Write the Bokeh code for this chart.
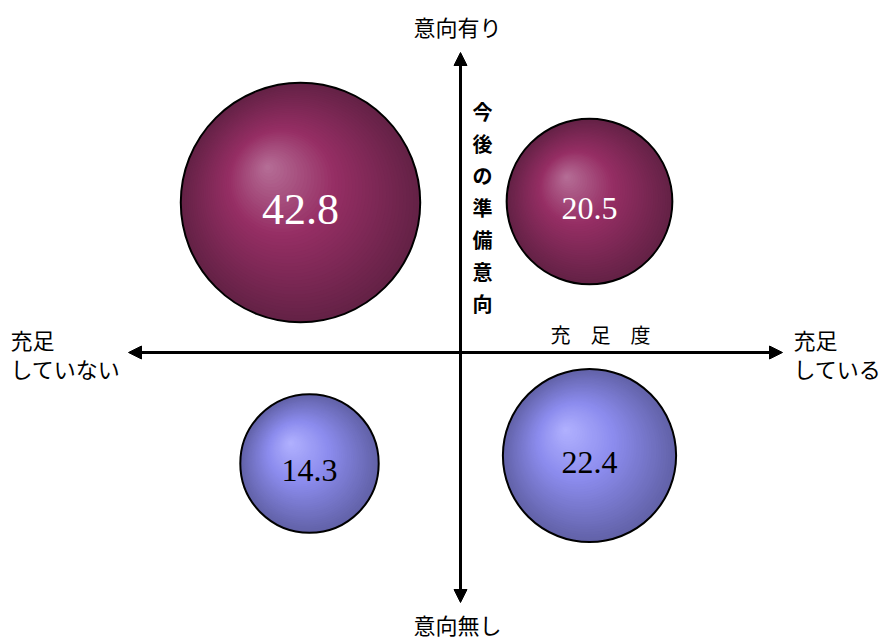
import numpy as np
from bokeh.plotting import figure
from bokeh.models import Range1d, Arrow, NormalHead, ColumnDataSource
from bokeh.core.properties import value
from bokeh.embed import file_html
from bokeh.resources import INLINE

# --- data -------------------------------------------------------------
values = [42.8, 20.5, 14.3, 22.4]          # share (%) in each quadrant
satisfaction = [-160, 129, -151, 129]       # horizontal placement (充足度)
intention = [150, 151, -111, -103]          # vertical placement (今後の準備意向)
intent_group = ["有り", "有り", "無し", "無し"]

axis_end_labels = ["意向有り", "意向無し"]
left_label = ["充足", "していない"]
right_label = ["充足", "している"]
x_title = "充　足　度"
y_title = "今後の準備意向"

# --- styling ----------------------------------------------------------
PX_PER_SQRT = 18.3      # bubble radius per sqrt(value), area-proportional
N_RINGS = 45
HILITE = np.array([-0.28, 0.30])   # highlight offset as a fraction of radius

palettes = {
    "有り": dict(edge=(100, 34, 70), base=(150, 46, 100), hi=(182, 112, 152), text="white"),
    "無し": dict(edge=(98, 98, 168), base=(140, 140, 238), hi=(178, 178, 255), text="black"),
}

JP = value("Noto Sans CJK JP")
NUM = value("Liberation Serif")


def lerp(a, b, t):
    return tuple(int(round(a[i] + (b[i] - a[i]) * t)) for i in range(3))


def ring_color(pal, t):
    if t < 0.55:
        c = lerp(pal["edge"], pal["base"], t / 0.55)
    else:
        c = lerp(pal["base"], pal["hi"], (t - 0.55) / 0.45)
    return "#%02x%02x%02x" % c


p = figure(width=887, height=643,
           x_range=Range1d(-460, 427), y_range=Range1d(-291, 352),
           x_axis_type=None, y_axis_type=None,
           output_backend="svg", toolbar_location=None, min_border=0)
p.grid.visible = False
p.outline_line_color = None
p.background_fill_color = "white"
p.border_fill_color = "white"

# --- shaded bubbles (banded radial gradient) ---------------------------
rx, ry, rr, rc = [], [], [], []
radii = [PX_PER_SQRT * np.sqrt(v) for v in values]
for cx, cy, r, g in zip(satisfaction, intention, radii, intent_group):
    pal = palettes[g]
    for i in range(N_RINGS):
        t = i / N_RINGS
        rx.append(cx + HILITE[0] * r * t)
        ry.append(cy + HILITE[1] * r * t)
        rr.append(r * (1 - t))
        rc.append(ring_color(pal, t))
p.circle(x="x", y="y", radius="r", fill_color="c", line_color=None,
         source=ColumnDataSource(dict(x=rx, y=ry, r=rr, c=rc)))

bubbles = ColumnDataSource(dict(
    x=satisfaction, y=intention, r=radii,
    label=[f"{v:.1f}" for v in values],
    color=[palettes[g]["text"] for g in intent_group],
    size=["44px" if r > 100 else "32px" for r in radii],
))
p.circle(x="x", y="y", radius="r", fill_color=None, line_color="black",
         line_width=2, source=bubbles)
p.text(x="x", y="y", text="label", text_color="color", text_font_size="size",
       text_font=NUM, text_align="center", text_baseline="middle",
       y_offset=7, source=bubbles)

# --- axes drawn as double-headed arrows --------------------------------
for (x0, y0, x1, y1) in [(-332, 0, 322, 0), (0, -250, 0, 300)]:
    p.add_layout(Arrow(
        x_start=x0, y_start=y0, x_end=x1, y_end=y1, line_width=3,
        start=NormalHead(size=13, fill_color="black", line_color="black"),
        end=NormalHead(size=13, fill_color="black", line_color="black")))

# --- axis texts -------------------------------------------------------
p.text(x=[-3, -3], y=[327, -271], text=axis_end_labels, text_font=JP,
       text_font_size="22px", text_align="center", text_baseline="middle",
       text_color="black")
p.text(x=[-450, -450], y=[14, -15], text=left_label, text_font=JP,
       text_font_size="22px", text_align="left", text_baseline="middle",
       text_color="black")
p.text(x=[333, 333], y=[14, -15], text=right_label, text_font=JP,
       text_font_size="22px", text_align="left", text_baseline="middle",
       text_color="black")
p.text(x=[140], y=[18], text=[x_title], text_font=JP, text_font_size="20px",
       text_align="center", text_baseline="middle", text_color="black")
p.text(x=[22], y=[145], text=["\n".join(y_title)], text_font=JP,
       text_font_size="20px", text_font_style="bold", text_line_height=1.1,
       text_align="center", text_baseline="middle", text_color="black")

open("out.html", "w").write(file_html(p, INLINE))
